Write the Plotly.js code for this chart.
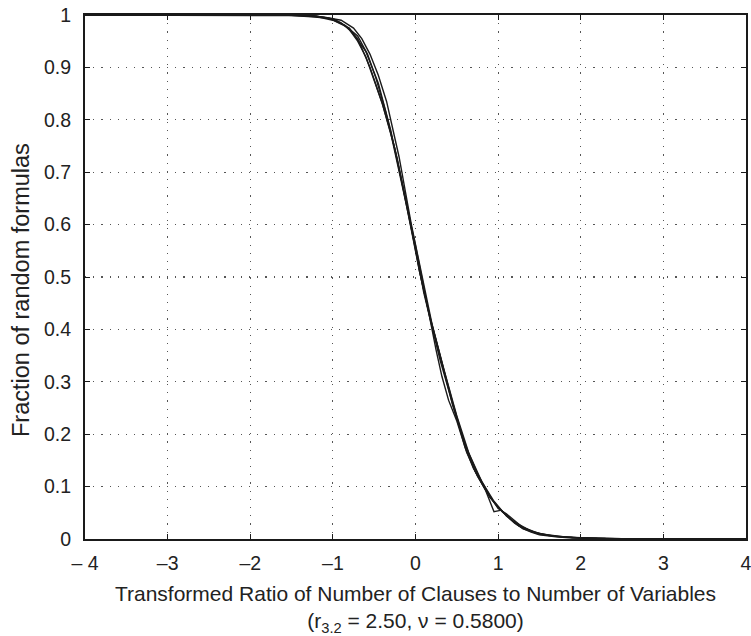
<!DOCTYPE html>
<html><head><meta charset="utf-8">
<script src="https://cdn.plot.ly/plotly-3.0.1.min.js"></script>
<style>html,body{margin:0;padding:0;background:#fff;}#plot{width:751px;height:636px;}</style>
</head><body><div id="plot"></div>
<script>
// Curves (fraction of random formulas vs transformed ratio)
const xA = [-4,-2,-1.5,-1.3,-1.1,-1.0,-0.9,-0.8,-0.7,-0.6,-0.5,-0.4,-0.3,-0.2,-0.1,0,0.1,0.2,0.3,0.4,0.5,0.6,0.7,0.8,0.9,1.0,1.1,1.2,1.3,1.4,1.5,1.7,1.9,2.2,2.6,4];
const yA = [1,1,0.999,0.997,0.995,0.993,0.985,0.972,0.95,0.92,0.875,0.83,0.775,0.705,0.63,0.555,0.47,0.405,0.34,0.285,0.23,0.175,0.135,0.108,0.08,0.06,0.045,0.03,0.02,0.013,0.008,0.004,0.002,0.001,0.0003,0];

const xB = [-4,-1.6,-1.2,-1.0,-0.8,-0.6,-0.45,-0.3,-0.15,0,0.15,0.3,0.45,0.6,0.75,0.9,1.0,1.1,1.3,1.5,1.8,2.2,4];
const yB = [1,1,0.997,0.99,0.975,0.93,0.87,0.78,0.67,0.56,0.44,0.345,0.255,0.18,0.125,0.082,0.058,0.048,0.022,0.01,0.004,0.001,0];

const xC = [-4,-1.4,-1.1,-0.9,-0.75,-0.65,-0.55,-0.45,-0.35,-0.2,-0.05,0.1,0.2,0.35,0.5,0.65,0.8,0.95,1.1,1.25,1.45,1.7,2.0,2.5,4];
const yC = [1,1,0.996,0.99,0.975,0.955,0.925,0.885,0.835,0.73,0.6,0.485,0.41,0.32,0.235,0.162,0.11,0.072,0.044,0.025,0.012,0.005,0.002,0.0005,0];

const xD = [-4,-1.5,-1.2,-1.0,-0.85,-0.7,-0.55,-0.4,-0.25,-0.1,0.05,0.15,0.25,0.32,0.4,0.5,0.62,0.75,0.9,1.05,1.2,1.4,1.6,1.9,2.3,4];
const yD = [1,1,0.998,0.992,0.98,0.955,0.9,0.83,0.745,0.635,0.51,0.44,0.36,0.31,0.265,0.225,0.165,0.12,0.08,0.052,0.032,0.015,0.007,0.003,0.001,0];

const xE = [-4,-1.3,-1.05,-0.85,-0.7,-0.58,-0.48,-0.36,-0.22,-0.08,0.05,0.18,0.32,0.45,0.58,0.72,0.85,0.95,1.04,1.15,1.3,1.5,1.75,2.1,2.7,4];
const yE = [1,1,0.994,0.98,0.96,0.925,0.88,0.815,0.725,0.615,0.51,0.42,0.335,0.26,0.19,0.13,0.092,0.052,0.055,0.038,0.02,0.009,0.004,0.0015,0.0002,0];

const xTickVals = [-4,-3,-2,-1,0,1,2,3,4];
const xTickText = ['\u2013 4','\u20133','\u20132','\u20131','0','1','2','3','4'];
const yTickVals = [0,0.1,0.2,0.3,0.4,0.5,0.6,0.7,0.8,0.9,1];
const yTickText = ['0','0.1','0.2','0.3','0.4','0.5','0.6','0.7','0.8','0.9','1'];
const yTitle = 'Fraction of random formulas';
const xTitle = 'Transformed Ratio of Number of Clauses to Number of Variables<br>(r<sub>3.2</sub> = 2.50, \u03bd = 0.5800)';

const series = [[xA,yA],[xB,yB],[xC,yC],[xD,yD],[xE,yE]];
const traces = series.map(s => ({
  x: s[0], y: s[1], type: 'scatter', mode: 'lines',
  line: {color: '#1a1a1a', width: 1.4}, showlegend: false, hoverinfo: 'skip', cliponaxis: false
}));

const fam = '"Liberation Sans", Arial, Helvetica, sans-serif';
const tickFont = {family: fam, size: 19.5, color: '#222'};
const titleFont = {family: fam, size: 21, color: '#222'};
const layout = {
  width: 751, height: 636,
  margin: {l: 85, r: 5, t: 15, b: 97},
  paper_bgcolor: '#fff', plot_bgcolor: '#fff',
  font: tickFont,
  showlegend: false,
  xaxis: {
    range: [-4, 4], tickvals: xTickVals, ticktext: xTickText,
    showline: true, linecolor: '#1a1a1a', linewidth: 2, mirror: 'ticks',
    ticks: 'inside', ticklen: 5, tickcolor: '#1a1a1a', tickwidth: 1,
    showgrid: true, gridcolor: '#555', griddash: '1.2px,7px', gridwidth: 1.2,
    zeroline: false, tickfont: tickFont, ticklabelstandoff: 6, ticklabeloverflow: 'allow',
    title: {text: xTitle, font: titleFont, standoff: 13}
  },
  yaxis: {
    range: [0, 1], tickvals: yTickVals, ticktext: yTickText,
    showline: true, linecolor: '#1a1a1a', linewidth: 2, mirror: 'ticks',
    ticks: 'inside', ticklen: 5, tickcolor: '#1a1a1a', tickwidth: 1,
    showgrid: true, gridcolor: '#555', griddash: '1.2px,7px', gridwidth: 1.2,
    zeroline: false, tickfont: tickFont, ticklabelstandoff: 8, ticklabeloverflow: 'allow'
  },
  annotations: [{
    text: yTitle, textangle: -90, showarrow: false,
    xref: 'paper', yref: 'paper', x: (21 - 85) / 661, y: (539 - 290) / 524,
    xanchor: 'center', yanchor: 'middle',
    font: {family: fam, size: 23.5, color: '#222'}
  }]
};
Plotly.newPlot('plot', traces, layout, {displayModeBar: false, staticPlot: true});
</script></body></html>
